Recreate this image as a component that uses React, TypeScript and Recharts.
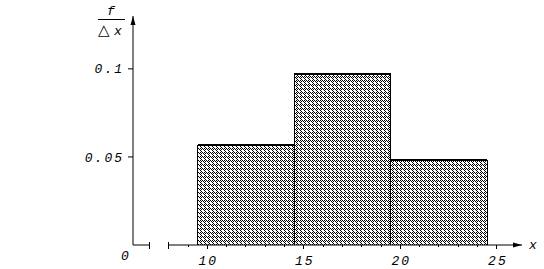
import React from 'react';
import {
  ComposedChart,
  XAxis,
  YAxis,
  ReferenceArea,
  ReferenceLine,
  ReferenceDot,
} from 'recharts';

// histogram bins (class limits) and heights f / Δx
const binStart = [9.5, 14.5, 19.5];
const binEnd = [14.5, 19.5, 24.5];
const density = [0.057, 0.097, 0.048];

const majorTicks = [10, 15, 20, 25];
const minorTicks = [9, 11, 12, 13, 14, 16, 17, 18, 19, 21, 22, 23, 24];
const breakTicks = [7, 8];
const yTicks = [0.05, 0.1];

const xDomain: [number, number] = [6.15, 26.3];
const yDomain: [number, number] = [0, 0.13];

const FONT = '"Liberation Mono", "DejaVu Sans Mono", monospace';

const bins = binStart.map((s, i) => ({ x1: s, x2: binEnd[i], y: density[i] }));
const allTicks = [...breakTicks, ...minorTicks, ...majorTicks].sort((a, b) => a - b);

const XTick = (props: any) => {
  const { x, y, payload } = props;
  const v = payload.value;
  if (breakTicks.includes(v)) {
    return <line x1={x} x2={x} y1={y - 3} y2={y + 4} stroke="#000" shapeRendering="crispEdges" />;
  }
  if (majorTicks.includes(v)) {
    return (
      <g>
        <line x1={x} x2={x} y1={y} y2={y + 4} stroke="#000" shapeRendering="crispEdges" />
        <text
          x={x + 1}
          y={y + 20}
          textAnchor="middle"
          fontFamily={FONT}
          fontStyle="italic"
          fontSize={13}
          letterSpacing={2}
          fill="#000"
        >
          {v}
        </text>
      </g>
    );
  }
  return <line x1={x} x2={x} y1={y} y2={y + 2} stroke="#000" shapeRendering="crispEdges" />;
};

const BinShape = (props: any) => {
  const { x, y, width, height } = props;
  return (
    <g shapeRendering="crispEdges">
      <rect x={x} y={y} width={width} height={height} fill="url(#stipple)" />
      <line x1={x} x2={x} y1={y} y2={y + height} stroke="#000" />
      <line x1={x + width} x2={x + width} y1={y} y2={y + height} stroke="#000" />
      <line x1={x} x2={x + width} y1={y} y2={y} stroke="#000" strokeWidth={2} />
    </g>
  );
};

const ArrowRight = (props: any) => {
  const { cx, cy } = props;
  return <path d={`M${cx},${cy} L${cx - 9},${cy - 2.5} L${cx - 9},${cy + 2.5} Z`} fill="#000" />;
};

const ArrowUp = (props: any) => {
  const { cx, cy } = props;
  return <path d={`M${cx},${cy} L${cx - 2.5},${cy + 9} L${cx + 2.5},${cy + 9} Z`} fill="#000" />;
};

const App = () => {
  return (
    <div style={{ position: 'absolute', left: 0, top: 0, width: 544, height: 269, background: '#fff' }}>
      <svg width={0} height={0} style={{ position: 'absolute' }}>
        <defs>
          <pattern id="stipple" width={4} height={4} patternUnits="userSpaceOnUse">
            <rect width={4} height={4} fill="#fff" />
            <rect x={0} y={0} width={1} height={1} fill="#000" />
            <rect x={2} y={0} width={1} height={1} fill="#000" />
            <rect x={1} y={1} width={1} height={1} fill="#000" />
            <rect x={3} y={1} width={1} height={1} fill="#000" />
            <rect x={0} y={2} width={1} height={1} fill="#000" />
            <rect x={1} y={3} width={1} height={1} fill="#000" />
          </pattern>
        </defs>
      </svg>

      <ComposedChart
        width={544}
        height={269}
        data={bins}
        margin={{ top: 16, right: 22, left: 73, bottom: 0 }}
      >
        <XAxis
          dataKey="x1"
          type="number"
          domain={xDomain}
          allowDataOverflow
          ticks={allTicks}
          interval={0}
          axisLine={false}
          tickLine={false}
          tickSize={0}
          tickMargin={0}
          height={24}
          tick={<XTick />}
        />
        <YAxis
          type="number"
          domain={yDomain}
          allowDataOverflow
          ticks={yTicks}
          interval={0}
          width={60}
          axisLine={{ stroke: '#000' }}
          tickLine={{ stroke: '#000' }}
          tickSize={5}
          tickMargin={4}
          tickFormatter={(v: number) => String(v)}
          tick={{ fill: '#000', fontFamily: FONT, fontStyle: 'italic', fontSize: 13, letterSpacing: 2 }}
        />

        {bins.map((b, i) => (
          <ReferenceArea
            key={i}
            x1={b.x1}
            x2={b.x2}
            y1={0}
            y2={b.y}
            ifOverflow="visible"
            shape={<BinShape />}
          />
        ))}

        <ReferenceLine
          segment={[{ x: xDomain[0], y: 0 }, { x: breakTicks[0], y: 0 }]}
          stroke="#000"
          ifOverflow="visible"
        />
        <ReferenceLine
          segment={[{ x: breakTicks[1], y: 0 }, { x: xDomain[1], y: 0 }]}
          stroke="#000"
          ifOverflow="visible"
        />
        <ReferenceDot x={xDomain[1]} y={0} ifOverflow="visible" shape={<ArrowRight />} />
        <ReferenceDot x={xDomain[0]} y={yDomain[1]} ifOverflow="visible" shape={<ArrowUp />} />
      </ComposedChart>

      <svg
        width={544}
        height={269}
        style={{ position: 'absolute', left: 0, top: 0, pointerEvents: 'none' }}
        fontFamily={FONT}
        fontStyle="italic"
        fill="#000"
      >
        <text x={111} y={15} fontSize={13} textAnchor="middle">f</text>
        <line x1={98} x2={125} y1={19.5} y2={19.5} stroke="#000" />
        <text x={98} y={35} fontSize={15} fontStyle="normal" fontFamily="DejaVu Sans">△</text>
        <text x={114} y={35} fontSize={13}>x</text>
        <text x={125} y={260} fontSize={13} textAnchor="middle">0</text>
        <text x={529} y={249} fontSize={13}>x</text>
      </svg>
    </div>
  );
};

export default App;
